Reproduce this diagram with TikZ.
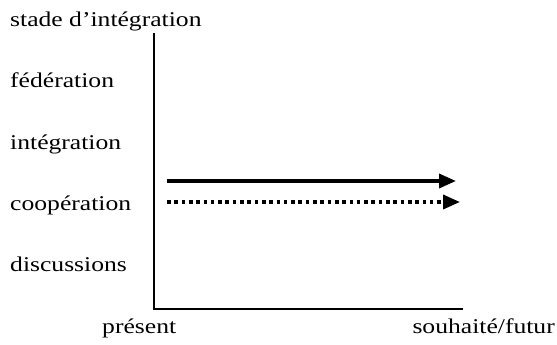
\documentclass[tikz,border=0pt]{standalone}
\usepackage{fontspec}
\setmainfont{Liberation Serif}
\newfontfamily\lbl[FakeStretch=1.22]{Liberation Serif}
\usetikzlibrary{arrows.meta}
\begin{document}
\begin{tikzpicture}[x=1pt,y=-1pt,
  lab/.style={inner sep=0pt,anchor=base west,font=\lbl\fontsize{21}{24}\selectfont},
  axis/.style={line width=2.6pt},
  trend/.style={line width=3.5pt,-{Triangle[length=17pt,width=14pt]}},
  plan/.style={trend,dash pattern=on 3.6pt off 3.7pt}]
\useasboundingbox (0,0) rectangle (557,345);
% labels of the stages
\node[lab] (stage) at (10,27) {stade d’intégration};
\node[lab] (fed) at (10,88) {fédération};
\node[lab] (int) at (10,149) {intégration};
\node[lab] (coop) at (10,210) {coopération};
\node[lab] (disc) at (10,271) {discussions};
% labels of the time axis
\node[lab] (now) at (102,333) {présent};
\node[lab,anchor=base east] (later) at (555,333) {souhaité/futur};
% axes
\coordinate (o) at (154,309);
\coordinate (ytop) at (154,33);
\coordinate (xend) at (463,309);
\draw[axis] (ytop) -- (o) -- (xend);
% trajectories
\coordinate (a1) at (167,181);
\coordinate (a2) at (456,181);
\coordinate (b1) at (167,202);
\coordinate (b2) at (460,202);
\draw[trend] (a1) -- (a2);
\draw[plan] (b1) -- (b2);
\end{tikzpicture}
\end{document}
